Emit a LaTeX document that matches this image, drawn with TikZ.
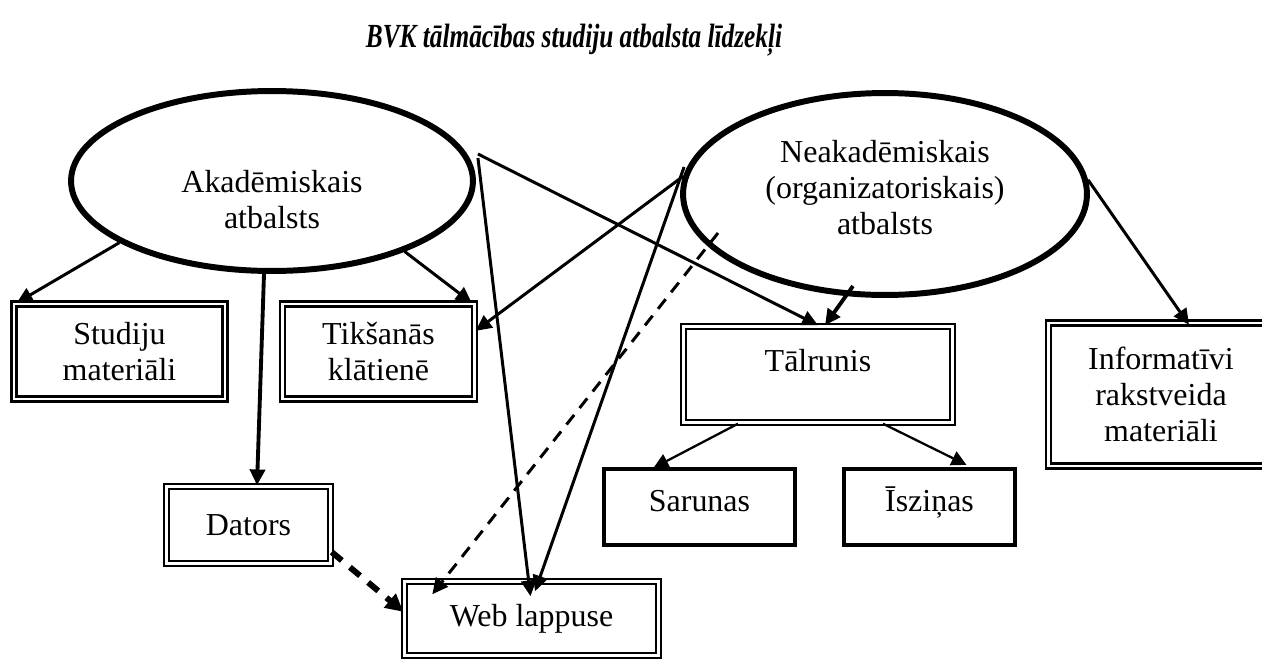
\documentclass[tikz,border=0pt]{standalone}
\usepackage{fontspec}
\setmainfont{Liberation Serif}
\usetikzlibrary{calc}
\usetikzlibrary{shapes.geometric}
\usetikzlibrary{arrows.meta}

\begin{document}
\begin{tikzpicture}[x = 0.02cm, y = -0.02cm, font = \fontsize{18.2}{20.5}\selectfont,
		oval/.style = {ellipse, draw, line width = 3.4pt, inner sep = 0pt},
		dbox/.style = {rectangle, draw, double, line width = 1.4pt, double distance = 1.4pt, align = center, inner sep = 0pt},
		sbox/.style = {rectangle, draw, line width = 2.4pt, text height = 0.44cm, text depth = 0.26cm, inner sep = 0pt},
		arr/.style = {line width = 1.7pt, -{Triangle[length = 9pt, width = 8.5pt]}},
		thinarr/.style = {line width = 1.3pt, -{Triangle[length = 8.5pt, width = 8.5pt]}},
		dasharr/.style = {arr, dash pattern = on 7pt off 5pt}]
				\clip (0, 0) rectangle (1262, 660);

				\node[font = \fontsize{19.2}{21}\selectfont\bfseries\itshape] (title) at (574, 40) {\scalebox{0.75}[1]{BVK tālmācības studiju atbalsta līdzekļi}};

				\node[oval, minimum width = 8.04cm, minimum height = 3.6cm] (akad) at (272, 181) {};
				\node[align = center] (akadtxt) at ($(akad.center)+(0, 19)$) {Akadēmiskais\\atbalsts};
				\node[oval, minimum width = 8.08cm, minimum height = 4.04cm] (neakad) at (885, 194) {};
				\node[align = center] (neakadtxt) at ($(neakad.center)+(0, -6)$) {Neakadēmiskais\\(organizatoriskais)\\atbalsts};

				\node[dbox, minimum width = 4.22cm, minimum height = 1.9cm] (stud) at (119.5, 351.5) {Studiju\\materiāli};
				\node[dbox, minimum width = 3.84cm, minimum height = 1.9cm] (tik) at (378.5, 351.5) {Tikšanās\\klātienē};
				\node[dbox, minimum width = 3.28cm, minimum height = 1.54cm] (dat) at (248.5, 525) {Dators};
				\node[dbox, minimum width = 5.08cm, minimum height = 1.48cm] (web) at (531.5, 618.5) {Web lappuse};
				\node[dbox, minimum width = 5.38cm, minimum height = 1.92cm, text height = 0.44cm, text depth = 0.58cm] (tal) at (818, 374.5) {Tālrunis};
				\node[dbox, minimum width = 4.5cm, minimum height = 2.86cm] (info) at (1161, 394.5) {Informatīvi\\rakstveida\\materiāli};
				\node[sbox, minimum width = 3.82cm, minimum height = 1.52cm] (sar) at (699.5, 507) {Sarunas};
				\node[sbox, minimum width = 3.42cm, minimum height = 1.52cm] (isz) at (929.5, 507) {Īsziņas};

				\draw[arr] (akad.202)--($(stud.north west)+(4, 0)$);
				\draw[arr] (akad.-28)--($(tik.north east)+(-4, 0)$);
				\draw[arr, line width = 2.2pt] ($(akad.south)+(-8, 0)$)--($(dat.north)+(8.5, 0)$);
				\draw[arr] ($(akad.east)+(2, -23)$)--($(web.north)+(-1, 16)$);
				\draw[arr] ($(akad.east)+(2, -27)$)--(tal.north);

				\draw[arr] (neakad.175)--(tik.12);
				\draw[arr] ($(neakad.west)+(4, -27)$)--($(web.north)+(3.5, 11)$);
				\draw[dasharr] ($(neakad.center)+(-167, 39)$)--($(web.north west)+(29, 14)$);
				\draw[arr, line width = 2.2pt] ($(neakad.south)+(-32, -12)$)--($(tal.north)+(7, 0)$);
				\draw[arr] (neakad.4)--($(info.north)+(28, 3)$);

				\draw[thinarr] ($(tal.south)+(-80, 0)$)--($(sar.north)+(-46, 1)$);
				\draw[thinarr] ($(tal.south)+(65, 0)$)--($(isz.north)+(37, -2)$);

				\draw[dasharr, line width = 3.4pt, dash pattern = on 7.5pt off 6pt, -{Triangle[length = 10pt, width = 10pt]}] (dat.-18)--(web.177);
			\end{tikzpicture}
\end{document}
